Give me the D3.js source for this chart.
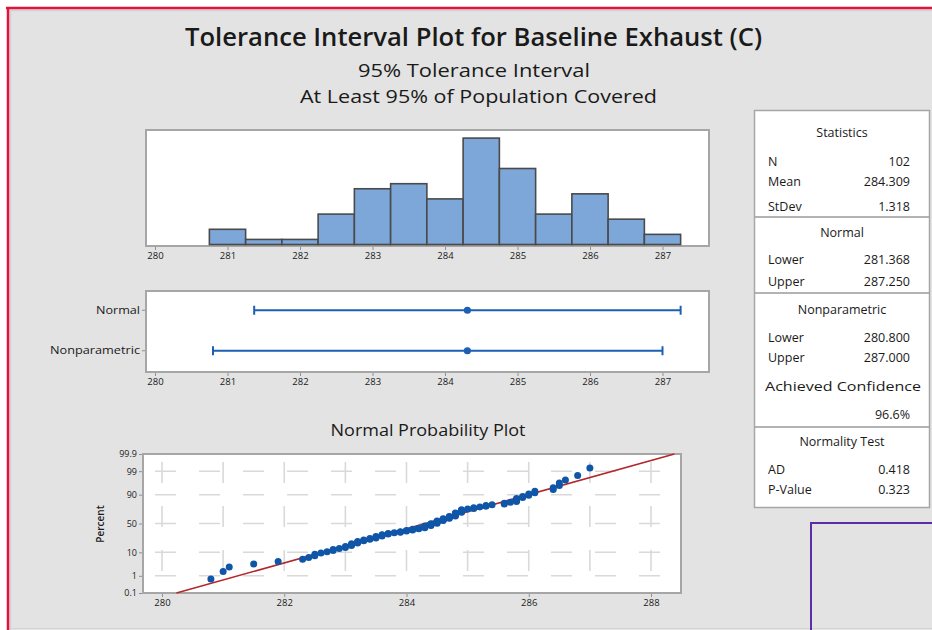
<!DOCTYPE html>
<html>
<head>
<meta charset="utf-8">
<script src="https://cdn.jsdelivr.net/npm/d3@7"></script>
<style>
  body { margin: 0; background: #ffffff; }
  svg text { font-family: "Open Sans", "Noto Sans", sans-serif; fill: #1a1a1a; }
</style>
</head>
<body>
<svg id="chart"></svg>
<script>
// data
var titleLines = ["Tolerance Interval Plot for Baseline Exhaust (C)", "95% Tolerance Interval", "At Least 95% of Population Covered"];

var exhaust = [
  280.8, 281.0, 281.1,
  281.5,
  281.9,
  282.3, 282.4, 282.5, 282.5, 282.6, 282.7,
  282.8, 282.8, 282.9, 283.0, 283.0, 283.1, 283.1, 283.1, 283.2, 283.2, 283.2,
  283.3, 283.3, 283.4, 283.4, 283.5, 283.5, 283.5, 283.6, 283.6, 283.6, 283.7, 283.7,
  283.8, 283.9, 283.9, 284.0, 284.0, 284.1, 284.1, 284.2, 284.2,
  284.3, 284.3, 284.3, 284.3, 284.4, 284.4, 284.4, 284.4, 284.5, 284.5, 284.5, 284.5, 284.5,
  284.6, 284.6, 284.6, 284.6, 284.7, 284.7, 284.7, 284.7,
  284.8, 284.8, 284.8, 284.8, 284.8, 284.8, 284.9, 284.9, 284.9, 284.9, 284.9, 285.0, 285.1, 285.1, 285.2,
  285.3, 285.3, 285.4, 285.6, 285.6, 285.7,
  285.8, 285.8, 285.8, 285.8, 285.9, 285.9, 286.0, 286.0, 286.1, 286.1,
  286.4, 286.4, 286.5, 286.5, 286.6,
  286.8, 287.0
];

var binEdges = [280.75, 281.25, 281.75, 282.25, 282.75, 283.25, 283.75, 284.25, 284.75, 285.25, 285.75, 286.25, 286.75, 287.25];
var histTicks = [280, 281, 282, 283, 284, 285, 286, 287];

var intervalNames = ["Normal", "Nonparametric"];
var intervalLower = [281.368, 280.800];
var intervalUpper = [287.250, 287.000];
var meanValue = 284.309;
var sdValue = 1.318;

var probTicksX = [280, 282, 284, 286, 288];
var probGridX = [280, 281, 282, 283, 284, 285, 286, 287, 288];
var probTicksY = [0.1, 1, 10, 50, 90, 99, 99.9];
var probGridY = [1, 10, 50, 90, 99];

var statSections = ["Statistics", "Normal", "Nonparametric", "Normality Test"];
var statLabels = ["N", "Mean", "StDev", "Lower", "Upper", "Lower", "Upper", "AD", "P-Value"];
var statValues = ["102", "284.309", "1.318", "281.368", "287.250", "280.800", "287.000", "0.418", "0.323"];
var confidenceLabel = "Achieved Confidence";
var confidenceValue = "96.6%";

// inverse normal cdf (Acklam) for the probability axis
var qnorm = function(p)
{
    var a = [-3.969683028665376e+01, 2.209460984245205e+02, -2.759285104469687e+02, 1.383577518672690e+02, -3.066479806614716e+01, 2.506628277459239e+00];
    var b = [-5.447609879822406e+01, 1.615858368580409e+02, -1.556989798598866e+02, 6.680131188771972e+01, -1.328068155288572e+01];
    var c = [-7.784894002430293e-03, -3.223964580411365e-01, -2.400758277161838e+00, -2.549732539343734e+00, 4.374664141464968e+00, 2.938163982698783e+00];
    var d = [7.784695709041462e-03, 3.224671290700398e-01, 2.445134137142996e+00, 3.754408661907416e+00];
    var q, r;
    if (p < 0.02425) {
        q = Math.sqrt(-2 * Math.log(p));
        return (((((c[0]*q+c[1])*q+c[2])*q+c[3])*q+c[4])*q+c[5]) / ((((d[0]*q+d[1])*q+d[2])*q+d[3])*q+1);
    }
    if (p > 1 - 0.02425) {
        q = Math.sqrt(-2 * Math.log(1 - p));
        return -(((((c[0]*q+c[1])*q+c[2])*q+c[3])*q+c[4])*q+c[5]) / ((((d[0]*q+d[1])*q+d[2])*q+d[3])*q+1);
    }
    q = p - 0.5;
    r = q * q;
    return (((((a[0]*r+a[1])*r+a[2])*r+a[3])*r+a[4])*r+a[5])*q / (((((b[0]*r+b[1])*r+b[2])*r+b[3])*r+b[4])*r+1);
}

var svg = d3.select("#chart")
    .attr("width", 932)
    .attr("height", 630);

// page background and the red frame
svg.append("rect").attr("x", 0).attr("y", 0).attr("width", 932).attr("height", 630).attr("fill", "#ffffff");
svg.append("rect").attr("x", 8).attr("y", 8).attr("width", 924).attr("height", 622).attr("fill", "#e3e3e3");
svg.append("line").attr("x1", 10).attr("x2", 932).attr("y1", 10.5).attr("y2", 10.5).attr("stroke", "#d2d2d2").attr("stroke-width", 1.5);
svg.append("line").attr("x1", 10.5).attr("x2", 10.5).attr("y1", 10).attr("y2", 630).attr("stroke", "#d2d2d2").attr("stroke-width", 1.5);
svg.append("line").attr("x1", 10).attr("x2", 932).attr("y1", 628.5).attr("y2", 628.5).attr("stroke", "#d4d4d4").attr("stroke-width", 1);
svg.append("line").attr("x1", 6).attr("x2", 932).attr("y1", 8).attr("y2", 8).attr("stroke", "#e2123c").attr("stroke-width", 2.5);
svg.append("line").attr("x1", 8).attr("x2", 8).attr("y1", 7).attr("y2", 630).attr("stroke", "#e2123c").attr("stroke-width", 2.5);

// purple box at bottom right
svg.append("path")
    .attr("d", "M811,630 L811,523 L932,523")
    .attr("fill", "none")
    .attr("stroke", "#5e2ca5")
    .attr("stroke-width", 2);

// titles
svg.append("text").attr("x", 473.5).attr("y", 46).attr("text-anchor", "middle")
    .attr("font-size", 25).attr("font-weight", 600)
    .attr("textLength", 577).attr("lengthAdjust", "spacingAndGlyphs")
    .text(titleLines[0]);
svg.append("text").attr("x", 474).attr("y", 77).attr("text-anchor", "middle")
    .attr("font-size", 18)
    .attr("textLength", 232).attr("lengthAdjust", "spacingAndGlyphs")
    .text(titleLines[1]);
svg.append("text").attr("x", 478.5).attr("y", 103).attr("text-anchor", "middle")
    .attr("font-size", 18)
    .attr("textLength", 357).attr("lengthAdjust", "spacingAndGlyphs")
    .text(titleLines[2]);

// shared x scale for histogram and interval plot
var xScale = d3.scaleLinear()
    .domain([280, 287])
    .range([155, 662.5]);

var frameLeft = 146, frameRight = 709;

var drawFrame = function(y0, y1)
{
    svg.append("rect")
        .attr("x", frameLeft).attr("y", y0)
        .attr("width", frameRight - frameLeft).attr("height", y1 - y0)
        .attr("fill", "#ffffff")
        .attr("stroke", "#a6a6a6")
        .attr("stroke-width", 2);
}

var drawBottomAxis = function(scale, ticks, y, fmt)
{
    var axis = d3.axisBottom(scale)
        .tickValues(ticks)
        .tickSize(3)
        .tickPadding(2)
        .tickFormat(fmt || d3.format("d"));
    var g = svg.append("g")
        .attr("transform", "translate(0," + y + ")")
        .call(axis);
    g.select(".domain").remove();
    g.selectAll(".tick line").attr("stroke", "#909090");
    g.selectAll(".tick text")
        .attr("font-size", 9.5)
        .attr("font-family", "\"Open Sans\", sans-serif")
        .attr("fill", "#333");
    return g;
}

// histogram
var histTop = 130, histBottom = 246;
drawFrame(histTop, histBottom);

var bins = d3.bin()
    .domain([binEdges[0], binEdges[binEdges.length - 1]])
    .thresholds(binEdges.slice(1, -1))(exhaust);

var yHist = d3.scaleLinear()
    .domain([0, 22.6])
    .range([histBottom - 1.5, histTop]);

svg.append("g").selectAll("rect")
    .data(bins)
    .enter()
    .append("rect")
    .attr("x", function(b) { return xScale(b.x0); })
    .attr("width", function(b) { return xScale(b.x1) - xScale(b.x0); })
    .attr("y", function(b) { return yHist(b.length); })
    .attr("height", function(b) { return yHist(0) - yHist(b.length); })
    .attr("fill", "#7da7d9")
    .attr("stroke", "#4a4a4a")
    .attr("stroke-width", 1.6);

drawBottomAxis(xScale, histTicks, histBottom + 1);

// interval plot
var intTop = 291, intBottom = 372;
drawFrame(intTop, intBottom);

var yInt = d3.scaleBand()
    .domain(intervalNames)
    .range([intTop, intBottom])
    .paddingOuter(0.0);

var rowY = function(name) { return yInt(name) + yInt.bandwidth() / 2 - 1; };
var labelWidth = {"Normal": 44, "Nonparametric": 90};

var yAxisInt = svg.append("g")
    .attr("transform", "translate(" + (frameLeft - 1) + ",0)")
    .call(d3.axisLeft(yInt).tickSize(3).tickPadding(2));
yAxisInt.select(".domain").remove();
yAxisInt.selectAll(".tick").attr("transform", function(name) { return "translate(0," + rowY(name) + ")"; });
yAxisInt.selectAll(".tick line").attr("stroke", "#909090");
yAxisInt.selectAll(".tick text").attr("font-size", 10.5).attr("fill", "#333")
    .attr("font-family", "\"Open Sans\", sans-serif")
    .attr("textLength", function(name) { return labelWidth[name]; })
    .attr("lengthAdjust", "spacingAndGlyphs");

var rows = svg.append("g").selectAll("g")
    .data(intervalNames)
    .enter()
    .append("g");

rows.append("line")
    .attr("x1", function(n, i) { return xScale(intervalLower[i]); })
    .attr("x2", function(n, i) { return xScale(intervalUpper[i]); })
    .attr("y1", rowY).attr("y2", rowY)
    .attr("stroke", "#1d5fb3").attr("stroke-width", 2);
rows.append("line")
    .attr("x1", function(n, i) { return xScale(intervalLower[i]); })
    .attr("x2", function(n, i) { return xScale(intervalLower[i]); })
    .attr("y1", function(n) { return rowY(n) - 4.5; })
    .attr("y2", function(n) { return rowY(n) + 4.5; })
    .attr("stroke", "#1d5fb3").attr("stroke-width", 2);
rows.append("line")
    .attr("x1", function(n, i) { return xScale(intervalUpper[i]); })
    .attr("x2", function(n, i) { return xScale(intervalUpper[i]); })
    .attr("y1", function(n) { return rowY(n) - 4.5; })
    .attr("y2", function(n) { return rowY(n) + 4.5; })
    .attr("stroke", "#1d5fb3").attr("stroke-width", 2);
rows.append("circle")
    .attr("cx", xScale(meanValue))
    .attr("cy", rowY)
    .attr("r", 3.6)
    .attr("fill", "#1d5fb3");

drawBottomAxis(xScale, histTicks, intBottom + 1);

// normal probability plot
svg.append("text").attr("x", 428).attr("y", 436).attr("text-anchor", "middle")
    .attr("font-size", 16)
    .attr("textLength", 195).attr("lengthAdjust", "spacingAndGlyphs")
    .text("Normal Probability Plot");

var probLeft = 143, probRight = 681, probTop = 454, probBottom = 593;

var xProb = d3.scaleLinear()
    .domain([280, 288])
    .range([162, 651]);

var zMax = qnorm(0.999);
var yProb = d3.scaleLinear()
    .domain([-zMax, zMax])
    .range([probBottom, probTop]);

svg.append("rect")
    .attr("x", probLeft).attr("y", probTop)
    .attr("width", probRight - probLeft).attr("height", probBottom - probTop)
    .attr("fill", "#ffffff");

var grid = svg.append("g")
    .attr("stroke", "#d9d9d9")
    .attr("stroke-width", 1.6)
    .attr("stroke-dasharray", "21,23");
grid.selectAll(".gx")
    .data(probGridX)
    .enter()
    .append("line")
    .attr("x1", function(v) { return xProb(v); })
    .attr("x2", function(v) { return xProb(v); })
    .attr("y1", probTop + 8)
    .attr("y2", probBottom - 2);
grid.selectAll(".gy")
    .data(probGridY)
    .enter()
    .append("line")
    .attr("x1", probLeft + 12)
    .attr("x2", probRight - 2)
    .attr("y1", function(p) { return yProb(qnorm(p / 100)); })
    .attr("y2", function(p) { return yProb(qnorm(p / 100)); });

svg.append("rect")
    .attr("x", probLeft).attr("y", probTop)
    .attr("width", probRight - probLeft).attr("height", probBottom - probTop)
    .attr("fill", "none")
    .attr("stroke", "#a6a6a6")
    .attr("stroke-width", 2);

// fitted normal line
var zEnds = [-zMax, zMax];
svg.append("path")
    .datum(zEnds)
    .attr("d", d3.line()
        .x(function(z) { return xProb(meanValue + z * sdValue); })
        .y(function(z) { return yProb(z); }))
    .attr("stroke", "#b3262a")
    .attr("stroke-width", 1.6)
    .attr("fill", "none");

// points at median ranks
var n = exhaust.length;
svg.append("g").selectAll("circle")
    .data(exhaust)
    .enter()
    .append("circle")
    .attr("cx", function(v) { return xProb(v); })
    .attr("cy", function(v, i) { return yProb(qnorm((i + 1 - 0.3) / (n + 0.4))); })
    .attr("r", 3.5)
    .attr("fill", "#0f56a8");

var probAxisX = drawBottomAxis(xProb, probTicksX, probBottom + 1);

var yAxisProb = svg.append("g")
    .attr("transform", "translate(" + (probLeft - 1) + ",0)")
    .call(d3.axisLeft(d3.scaleLinear().domain([-zMax, zMax]).range([probBottom, probTop]))
        .tickValues(probTicksY.map(function(p) { return qnorm(p / 100); }))
        .tickFormat(function(z, i) { return String(probTicksY[i]); })
        .tickSize(3)
        .tickPadding(2));
yAxisProb.select(".domain").remove();
yAxisProb.selectAll(".tick line").attr("stroke", "#909090");
yAxisProb.selectAll(".tick text").attr("font-size", 9).attr("fill", "#333")
    .attr("font-family", "\"Open Sans\", sans-serif");

svg.append("text")
    .attr("transform", "translate(104,524) rotate(-90)")
    .attr("text-anchor", "middle")
    .attr("font-size", 10)
    .attr("font-weight", 600)
    .text("Percent");

// statistics panel
var panel = svg.append("g");
panel.append("rect")
    .attr("x", 754.5).attr("y", 110.5)
    .attr("width", 175).attr("height", 397)
    .attr("fill", "#ffffff")
    .attr("stroke", "#a6a6a6")
    .attr("stroke-width", 1.5);
var dividers = [217, 293, 427];
panel.selectAll(".div")
    .data(dividers)
    .enter()
    .append("line")
    .attr("x1", 755).attr("x2", 929.5)
    .attr("y1", function(y) { return y; })
    .attr("y2", function(y) { return y; })
    .attr("stroke", "#9a9a9a")
    .attr("stroke-width", 1.5);

var sectionY = [137, 237, 314, 446];
panel.selectAll(".sec")
    .data(statSections)
    .enter()
    .append("text")
    .attr("x", 842)
    .attr("y", function(s, i) { return sectionY[i]; })
    .attr("text-anchor", "middle")
    .attr("font-size", 12.5)
    .text(function(s) { return s; });

var rowYs = [166, 186, 211, 264, 286, 342, 362, 474, 494];
panel.selectAll(".lab")
    .data(statLabels)
    .enter()
    .append("text")
    .attr("x", 768)
    .attr("y", function(s, i) { return rowYs[i]; })
    .attr("font-size", 12.5)
    .text(function(s) { return s; });
panel.selectAll(".val")
    .data(statValues)
    .enter()
    .append("text")
    .attr("x", 910)
    .attr("y", function(s, i) { return rowYs[i]; })
    .attr("text-anchor", "end")
    .attr("font-size", 12.5)
    .text(function(s) { return s; });
panel.append("text")
    .attr("x", 843).attr("y", 391)
    .attr("text-anchor", "middle")
    .attr("font-size", 12.5)
    .attr("textLength", 156).attr("lengthAdjust", "spacingAndGlyphs")
    .text(confidenceLabel);
panel.append("text")
    .attr("x", 910).attr("y", 419)
    .attr("text-anchor", "end")
    .attr("font-size", 12.5)
    .text(confidenceValue);
</script>
</body>
</html>
